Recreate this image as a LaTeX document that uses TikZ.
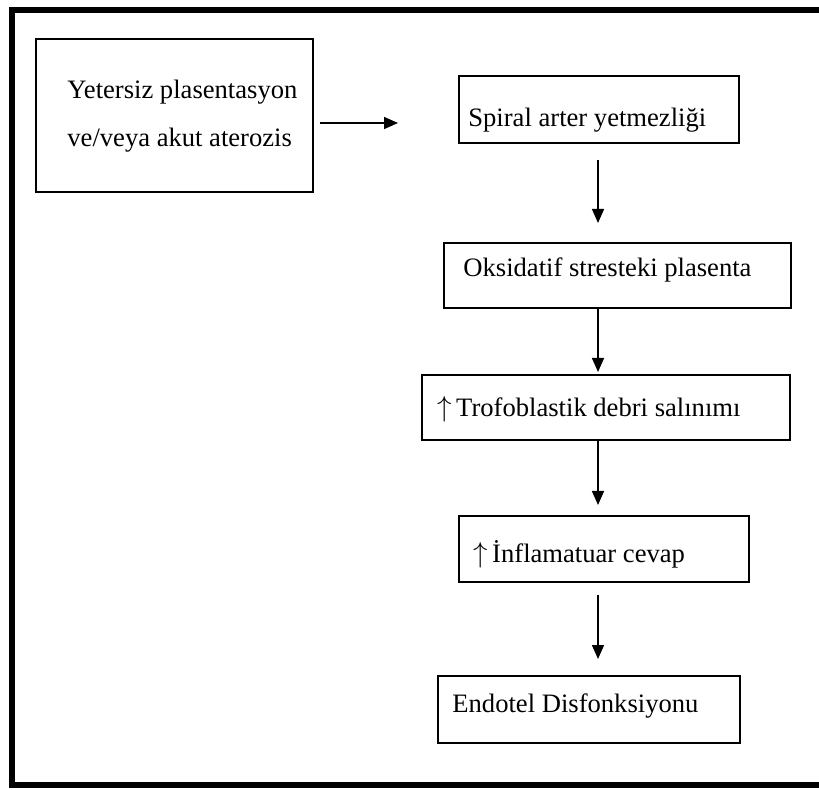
\documentclass[tikz,border=0pt]{standalone}
\usepackage{fontspec}
\setmainfont{Liberation Serif}
\usetikzlibrary{arrows.meta}
\begin{document}
\begin{tikzpicture}[x=0.5pt,y=-0.5pt,
  box/.style={draw, line width=0.8pt, inner sep=0pt, anchor=north west},
  txt/.style={inner sep=0pt, anchor=base west, font=\fontsize{13.3}{16}\selectfont},
  arr/.style={line width=0.75pt, -{Triangle[length=7pt,width=6pt]}},
  frame/.style={line width=2.6pt, line join=miter}]
\useasboundingbox (0,0) rectangle (819,790);
\draw[frame] (830,10) -- (12,10) -- (12,785) -- (830,785);
% boxes
\node[box, minimum width=138.5pt, minimum height=76.5pt] (b1) at (35,38) {};
\node[box, minimum width=140pt, minimum height=33.5pt] (b2) at (458,75) {};
\node[box, minimum width=173.5pt, minimum height=32.5pt] (b3) at (443,242) {};
\node[box, minimum width=184pt, minimum height=32.5pt] (b4) at (421,374) {};
\node[box, minimum width=145pt, minimum height=33pt] (b5) at (458,515) {};
\node[box, minimum width=151pt, minimum height=33.5pt] (b6) at (437,675) {};
% texts
\node[txt] (t1a) at (67,99) {Yetersiz plasentasyon};
\node[txt] (t1b) at (67,147) {ve/veya akut aterozis};
\node[txt] (t2) at (468,127) {Spiral arter yetmezliği};
\node[txt] (t3) at (463,277) {Oksidatif stresteki plasenta};
\node[txt] (t4) at (437,417) {$\uparrow$\,Trofoblastik debri salınımı};
\node[txt] (t5) at (473,563) {$\uparrow$\,İnflamatuar cevap};
\node[txt] (t6) at (452,712) {Endotel Disfonksiyonu};
% connectors
\coordinate (ax) at (598,0);
\coordinate (ay) at (0,123);
\draw[arr, shorten <=3pt, shorten >=30pt] (b1.east |- ay) -- (b2.west |- ay);
\draw[arr, shorten <=8pt, shorten >=9.5pt] (b2.south -| ax) -- (b3.north -| ax);
\draw[arr, shorten >=1pt] (b3.south -| ax) -- (b4.north -| ax);
\draw[arr, shorten >=5pt] (b4.south -| ax) -- (b5.north -| ax);
\draw[arr, shorten <=6pt, shorten >=8pt] (b5.south -| ax) -- (b6.north -| ax);
\end{tikzpicture}
\end{document}
